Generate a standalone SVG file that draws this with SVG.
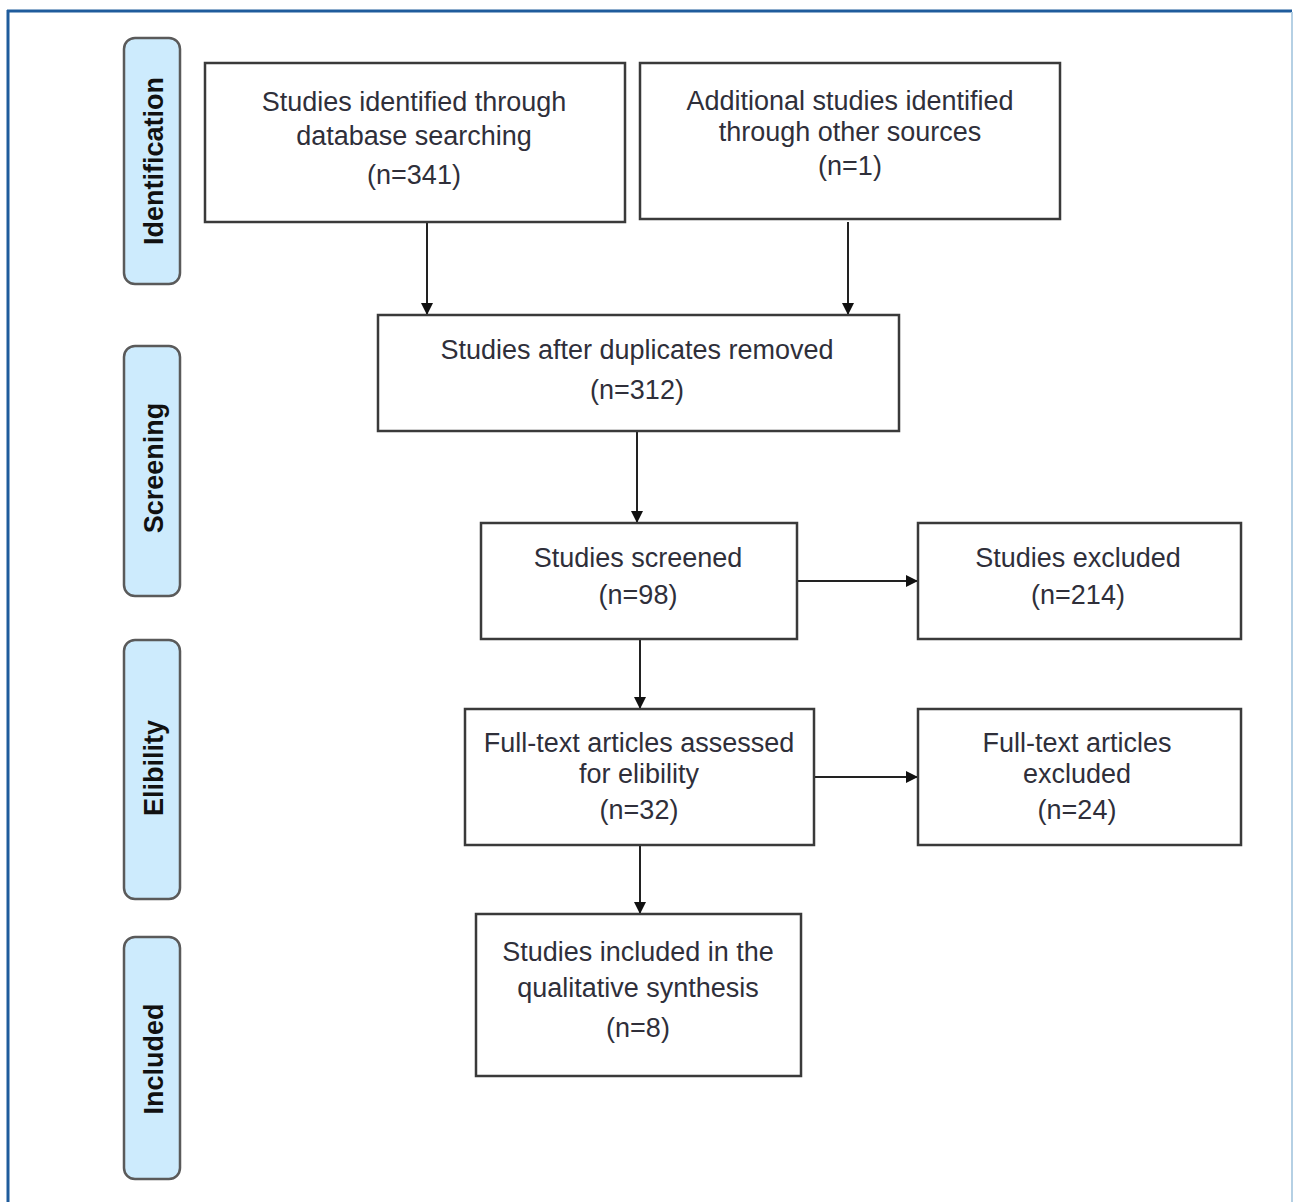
<svg xmlns="http://www.w3.org/2000/svg" width="1293" height="1202" viewBox="0 0 1293 1202">
<defs>
<style>
.box{fill:#fff;stroke:#3a3a3a;stroke-width:2.5}
.tab{fill:#cdebfd;stroke:#5a5a5a;stroke-width:2.5}
.t{font-family:"Liberation Sans",Arial,sans-serif;font-size:27px;fill:#2f2f3a;text-anchor:middle}
.tt{font-family:"Liberation Sans",Arial,sans-serif;font-size:27px;font-weight:bold;fill:#111;text-anchor:middle}
.c{stroke:#222;stroke-width:2;fill:none;marker-end:url(#ah)}
</style>
<marker id="ah" viewBox="0 0 10 10" refX="10" refY="5" markerWidth="12" markerHeight="12" markerUnits="userSpaceOnUse" orient="auto">
<path d="M0,0 L10,5 L0,10 z" fill="#111"/>
</marker>
</defs>
<rect width="1293" height="1202" fill="#fff"/>
<g id="frame">
<line x1="7" y1="11" x2="1292" y2="11" stroke="#1f5c9c" stroke-width="3"/>
<line x1="8" y1="10" x2="8" y2="1202" stroke="#1f5c9c" stroke-width="3"/>
<line x1="1292" y1="12" x2="1292" y2="1202" stroke="#b5d0e4" stroke-width="2"/>
</g>
<g id="tab-identification"><rect class="tab" x="124" y="38" width="56" height="246" rx="11"/><text class="tt" transform="translate(163,161) rotate(-90)">Identification</text></g>
<g id="tab-screening"><rect class="tab" x="124" y="346" width="56" height="250" rx="11"/><text class="tt" transform="translate(163,468) rotate(-90)">Screening</text></g>
<g id="tab-elibility"><rect class="tab" x="124" y="640" width="56" height="259" rx="11"/><text class="tt" transform="translate(163,768) rotate(-90)">Elibility</text></g>
<g id="tab-included"><rect class="tab" x="124" y="937" width="56" height="242" rx="11"/><text class="tt" transform="translate(163,1059) rotate(-90)">Included</text></g>
<g id="connectors">
<line class="c" x1="427" y1="222" x2="427" y2="315"/>
<line class="c" x1="848" y1="222" x2="848" y2="315"/>
<line class="c" x1="637" y1="431" x2="637" y2="523"/>
<line class="c" x1="797" y1="581" x2="918" y2="581"/>
<line class="c" x1="640" y1="639" x2="640" y2="709"/>
<line class="c" x1="814" y1="777" x2="918" y2="777"/>
<line class="c" x1="640" y1="845" x2="640" y2="914"/>
</g>
<g id="n-database"><rect class="box" x="205" y="63" width="420" height="159"/><text class="t" x="414" y="111">Studies identified through</text><text class="t" x="414" y="145">database searching</text><text class="t" x="414" y="184">(n=341)</text></g>
<g id="n-other"><rect class="box" x="640" y="63" width="420" height="156"/><text class="t" x="850" y="110">Additional studies identified</text><text class="t" x="850" y="141">through other sources</text><text class="t" x="850" y="175">(n=1)</text></g>
<g id="n-dup"><rect class="box" x="378" y="315" width="521" height="116"/><text class="t" x="637" y="359">Studies after duplicates removed</text><text class="t" x="637" y="399">(n=312)</text></g>
<g id="n-screened"><rect class="box" x="481" y="523" width="316" height="116"/><text class="t" x="638" y="567">Studies screened</text><text class="t" x="638" y="604">(n=98)</text></g>
<g id="n-excluded"><rect class="box" x="918" y="523" width="323" height="116"/><text class="t" x="1078" y="567">Studies excluded</text><text class="t" x="1078" y="604">(n=214)</text></g>
<g id="n-fulltext"><rect class="box" x="465" y="709" width="349" height="136"/><text class="t" x="639" y="752">Full-text articles assessed</text><text class="t" x="639" y="783">for elibility</text><text class="t" x="639" y="819">(n=32)</text></g>
<g id="n-ftexcluded"><rect class="box" x="918" y="709" width="323" height="136"/><text class="t" x="1077" y="752">Full-text articles</text><text class="t" x="1077" y="783">excluded</text><text class="t" x="1077" y="819">(n=24)</text></g>
<g id="n-included"><rect class="box" x="476" y="914" width="325" height="162"/><text class="t" x="638" y="961">Studies included in the</text><text class="t" x="638" y="997">qualitative synthesis</text><text class="t" x="638" y="1037">(n=8)</text></g>
</svg>
